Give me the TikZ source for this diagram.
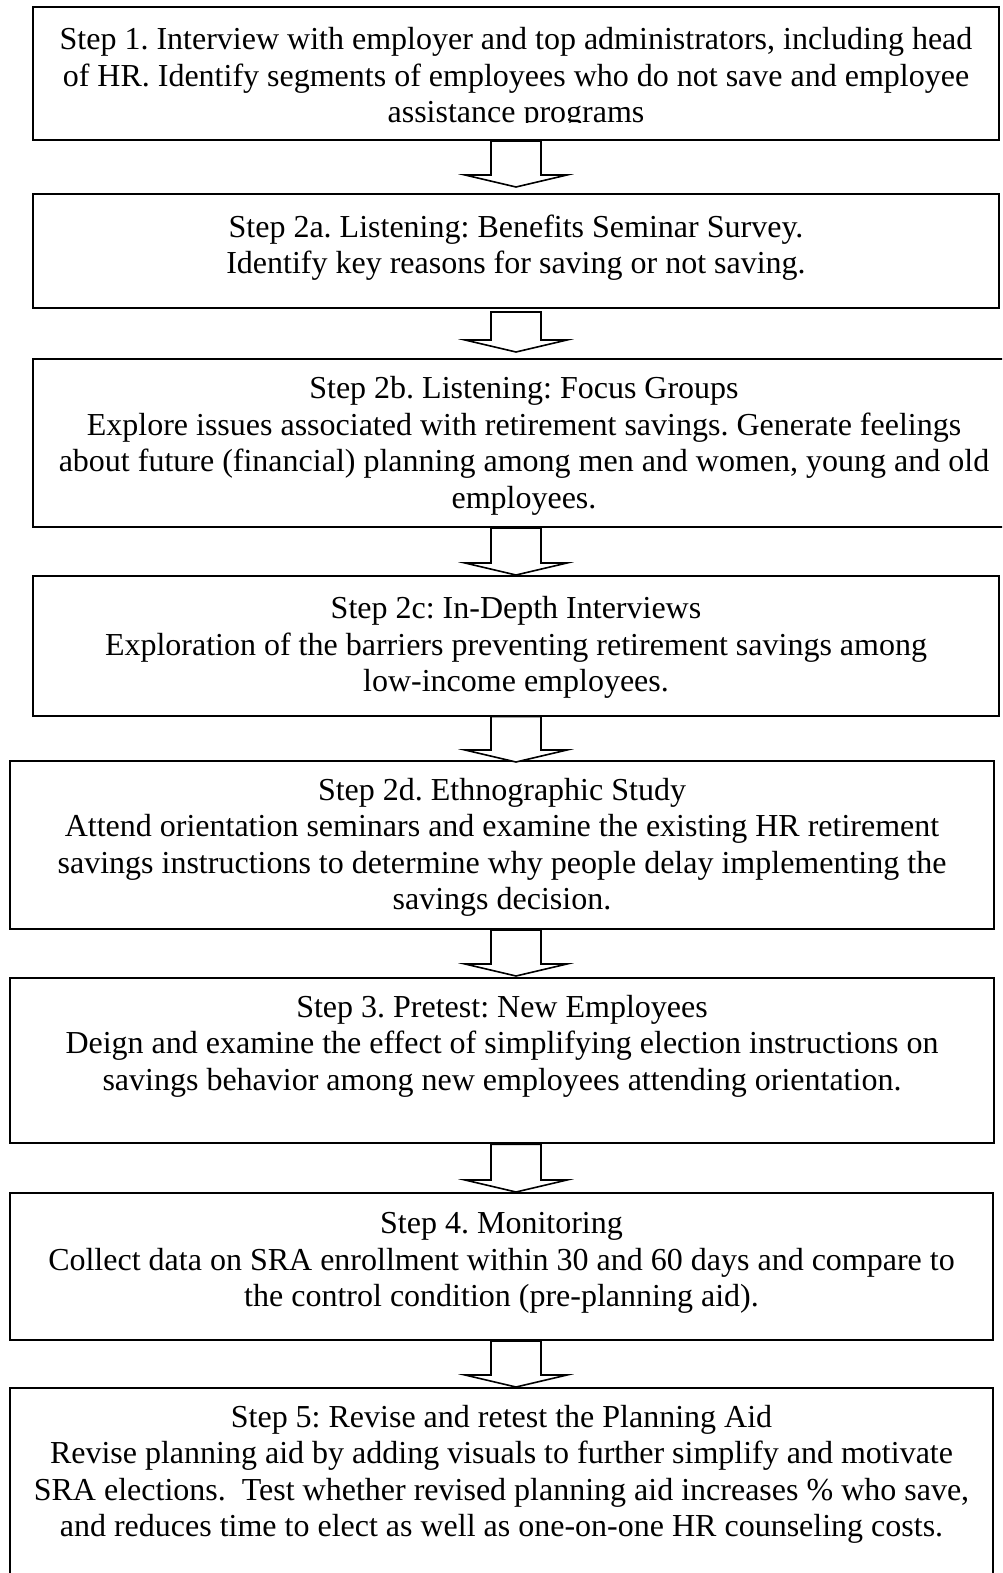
\documentclass[tikz,border=0pt]{standalone}
\usepackage{fontspec}
\setmainfont{Liberation Serif}
\usetikzlibrary{fit,calc}
\frenchspacing
\newcommand\stepfont{\fontsize{16pt}{18.25pt}\selectfont\frenchspacing}
\tikzset{
  stepbox/.style={draw=black, line width=1pt, inner sep=0pt, rectangle},
  steptext/.style={inner sep=0pt, align=center, anchor=north, font=\stepfont},
  arrowline/.style={draw=black, line width=0.8pt, fill=white, line join=miter},
}
% #1 from node, #2 to node, #3 top offset (down), #4 gap above tip
\newcommand\blockarrow[4]{%
  \draw[arrowline] let \p1=(#1.south -| ax), \p2=(#2.north -| ax) in
    (\x1-12.5pt,\y1-#3) -- (\x1+12.5pt,\y1-#3)
    -- (\x1+12.5pt,\y2+#4+6pt) -- (\x1+25.5pt,\y2+#4+6pt)
    -- (\x1,\y2+#4) -- (\x1-25.5pt,\y2+#4+6pt)
    -- (\x1-12.5pt,\y2+#4+6pt) -- cycle;}
\begin{document}
\begin{tikzpicture}[x=0.5pt,y=-0.5pt]
\useasboundingbox (0,0) rectangle (1002,1573);
\clip (0,0) rectangle (1002,1573);
\fill[white] (0,0) rectangle (1002,1573);
\coordinate (ax) at (516,0);

\node[stepbox, fit={(33,7) (999,140)}] (b1) {};
\node[stepbox, fit={(33,194) (999,308)}] (b2) {};
\node[stepbox, fit={(33,359) (1015,527)}] (b3) {};
\node[stepbox, fit={(33,576) (999,715.5)}] (b4) {};
\node[stepbox, fit={(10,761) (994,929)}] (b5) {};
\node[stepbox, fit={(10,978) (994,1143.3)}] (b6) {};
\node[stepbox, fit={(10,1193) (993,1340)}] (b7) {};
\node[stepbox, fit={(10,1388) (993,1610)}] (b8) {};

\begin{scope}
\clip (33,7) rectangle (999,123);
\node[steptext] (t1) at (b1.center |- 0,24) {\strut Step 1. Interview with employer and top administrators, including head\\
of HR. Identify segments of employees who do not save and employee\\
assistance programs};
\end{scope}
\node[steptext] (t2) at (b2.center |- 0,211.5) {\strut Step 2a. Listening: Benefits Seminar Survey.\\
Identify key reasons for saving or not saving.};
\node[steptext] (t3) at (b3.center |- 0,373) {\strut Step 2b. Listening: Focus Groups\\
Explore issues associated with retirement savings. Generate feelings\\
about future (financial) planning among men and women, young and old\\
employees.};
\node[steptext] (t4) at (b4.center |- 0,592.8) {\strut Step 2c: In-Depth Interviews\\
Exploration of the barriers preventing retirement savings among\\
low-income employees.};
\node[steptext] (t5) at (b5.center |- 0,774.5) {\strut Step 2d. Ethnographic Study\\
Attend orientation seminars and examine the existing HR retirement\\
savings instructions to determine why people delay implementing the\\
savings decision.};
\node[steptext] (t6) at (b6.center |- 0,991.2) {\strut Step 3. Pretest: New Employees\\
Deign and examine the effect of simplifying election instructions on\\
savings behavior among new employees attending orientation.};
\node[steptext] (t7) at (b7.center |- 0,1207.8) {\strut Step 4. Monitoring\\
Collect data on SRA enrollment within 30 and 60 days and compare to\\
the control condition (pre-planning aid).};
\node[steptext] (t8) at (b8.center |- 0,1401.2) {\strut Step 5: Revise and retest the Planning Aid\\
Revise planning aid by adding visuals to further simplify and motivate\\
SRA elections.\ \ Test whether revised planning aid increases \% who save,\\
and reduces time to elect as well as one-on-one HR counseling costs.};

\blockarrow{b1}{b2}{0pt}{3pt}
\blockarrow{b2}{b3}{1.5pt}{3pt}
\blockarrow{b3}{b4}{0pt}{0pt}
\blockarrow{b4}{b5}{0pt}{-1pt}
\blockarrow{b5}{b6}{0pt}{0.5pt}
\blockarrow{b6}{b7}{0pt}{0pt}
\blockarrow{b7}{b8}{0pt}{0pt}
\end{tikzpicture}
\end{document}
